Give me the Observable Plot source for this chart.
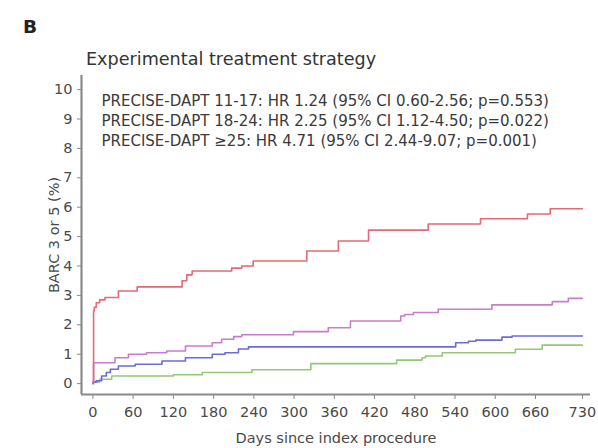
<!DOCTYPE html>
<html>
<head>
<meta charset="utf-8">
<script src="https://cdn.jsdelivr.net/npm/d3@7"></script>
<script src="https://cdn.jsdelivr.net/npm/@observablehq/plot@0.6"></script>
<style>
  html, body { margin: 0; padding: 0; background: #fff; }
  #wrap { position: relative; width: 598px; height: 448px; overflow: hidden; font-family: "DejaVu Sans", sans-serif; }
  #panel { position: absolute; left: 23px; top: 18px; font-size: 18.5px; line-height: 18px; font-weight: bold; color: #222; }
  #title { position: absolute; left: 86px; top: 51px; font-size: 17.6px; line-height: 17px; color: #333; white-space: nowrap; }
  #chart { position: absolute; left: 0; top: 0; }
</style>
</head>
<body>
<div id="wrap">
  <div id="chart"></div>
  <div id="panel">B</div>
  <div id="title">Experimental treatment strategy</div>
</div>
<script>
// ---- data ----
const xTicks = [0, 60, 120, 180, 240, 300, 360, 420, 480, 540, 600, 660, 730];
const yTicks = [0, 1, 2, 3, 4, 5, 6, 7, 8, 9, 10];
const xLabel = "Days since index procedure";
const yLabel = "BARC 3 or 5 (%)";

const annotations = [
  "PRECISE-DAPT 11-17: HR 1.24 (95% CI 0.60-2.56; p=0.553)",
  "PRECISE-DAPT 18-24: HR 2.25 (95% CI 1.12-4.50; p=0.022)",
  "PRECISE-DAPT \u226525: HR 4.71 (95% CI 2.44-9.07; p=0.001)"
];

const groups = ["PRECISE-DAPT \u226510", "PRECISE-DAPT 11-17", "PRECISE-DAPT 18-24", "PRECISE-DAPT \u226525"];
const colors = ["#93c879", "#6a6cd6", "#c77dcc", "#e46a73"];

const greenDays = [0, 10, 28, 120, 163, 237, 325, 453, 491, 496, 521, 630, 670, 730];
const greenVals = [0.05, 0.15, 0.26, 0.3, 0.38, 0.47, 0.68, 0.8, 0.88, 0.94, 1.05, 1.17, 1.31, 1.31];

const blueDays = [0, 5, 13, 20, 26, 38, 63, 103, 138, 178, 197, 217, 232, 541, 560, 571, 610, 625, 730];
const blueVals = [0.05, 0.1, 0.26, 0.38, 0.49, 0.6, 0.66, 0.77, 0.88, 1.0, 1.05, 1.18, 1.25, 1.39, 1.44, 1.48, 1.58, 1.62, 1.62];

const purpleDays = [0, 1, 33, 53, 80, 110, 138, 178, 192, 210, 222, 299, 351, 384, 459, 465, 478, 515, 595, 685, 709, 730];
const purpleVals = [0, 0.71, 0.88, 1.0, 1.05, 1.11, 1.28, 1.39, 1.51, 1.6, 1.66, 1.77, 1.9, 2.13, 2.3, 2.35, 2.42, 2.53, 2.68, 2.79, 2.9, 2.9];

const redDays = [0, 1, 2, 5, 10, 18, 38, 66, 133, 140, 148, 207, 222, 239, 319, 366, 411, 500, 578, 648, 682, 730];
const redVals = [0, 2.47, 2.6, 2.75, 2.85, 2.93, 3.15, 3.29, 3.5, 3.7, 3.83, 3.93, 4.0, 4.17, 4.51, 4.85, 5.22, 5.43, 5.61, 5.77, 5.95, 5.95];

const xDomain = [-17, 742];
const yDomain = [-0.37, 10.48];

// ---- build table ----
const seriesDays = [greenDays, blueDays, purpleDays, redDays];
const seriesVals = [greenVals, blueVals, purpleVals, redVals];
const rows = groups.flatMap((g, i) => seriesDays[i].map((d, j) => ({group: g, day: d, risk: seriesVals[i][j]})));

const chart = Plot.plot({
  width: 598,
  height: 448,
  marginLeft: 81,
  marginRight: 8,
  marginTop: 75,
  marginBottom: 54,
  style: {fontFamily: "DejaVu Sans, sans-serif", fontSize: "14.5px", color: "#4a4a4a", background: "transparent"},
  x: {domain: xDomain},
  y: {domain: yDomain},
  color: {domain: groups, range: colors},
  marks: [
    Plot.axisX({ticks: xTicks, tickSize: 5, tickPadding: 7, stroke: "#888", label: xLabel, labelAnchor: "center", labelArrow: "none", labelOffset: 48, fontSize: 14.5}),
    Plot.axisY({ticks: yTicks, tickSize: 4, tickPadding: 5, stroke: "#888", label: yLabel, labelAnchor: "center", labelArrow: "none", labelOffset: 33, fontSize: 14.5}),
    Plot.ruleX([xDomain[0]], {stroke: "#8a8a8a", strokeWidth: 2.2}),
    Plot.ruleY([yDomain[0]], {stroke: "#8a8a8a", strokeWidth: 2.2}),
    Plot.line(rows, {x: "day", y: "risk", z: "group", stroke: "group", curve: "step-after", strokeWidth: 1.6}),
    Plot.text([annotations.join("\n")], {frameAnchor: "top-left", textAnchor: "start", lineAnchor: "top", dx: 20, dy: 16, lineHeight: 20 / 15, fontSize: 15, fill: "#3a3a3a"})
  ]
});
document.getElementById("chart").appendChild(chart);
</script>
</body>
</html>
